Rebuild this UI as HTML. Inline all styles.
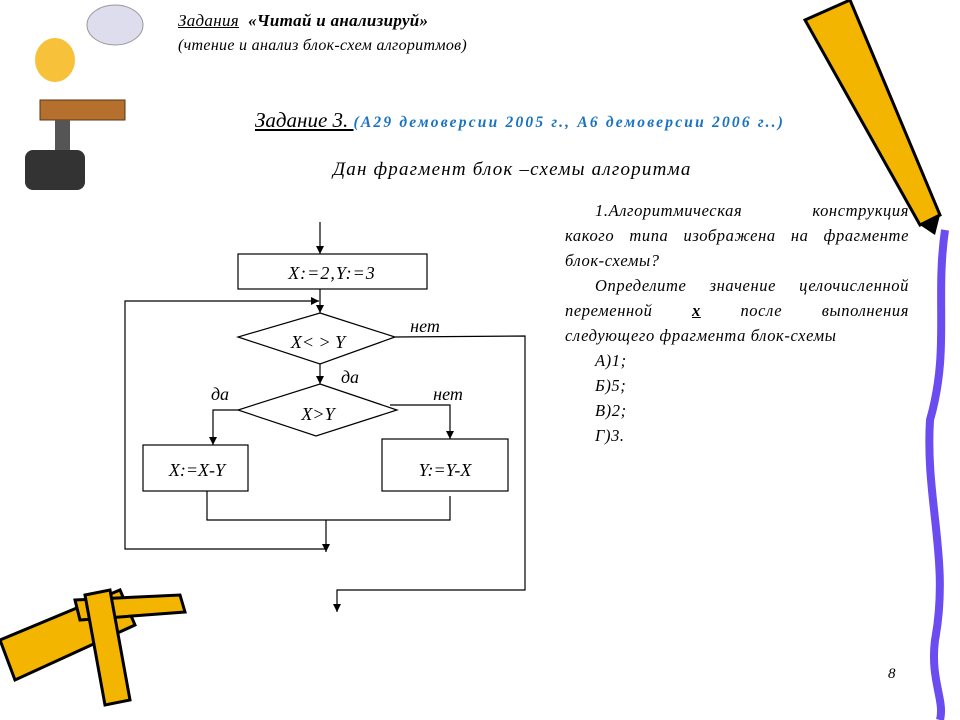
<!DOCTYPE html>
<html><head><meta charset="utf-8"><style>
html,body{margin:0;padding:0;background:#fff;}
body{width:960px;height:720px;position:relative;overflow:hidden;font-family:"Liberation Serif","DejaVu Serif",serif;font-style:italic;}
.t{position:absolute;white-space:nowrap;color:#000;}
#q{position:absolute;left:565px;top:198px;width:344px;font-size:16.5px;line-height:25px;letter-spacing:0.6px;}
#q div{white-space:nowrap;}
#q .j{text-align:justify;text-align-last:justify;white-space:normal;}
#q .i{padding-left:30px;}
</style></head><body>
<svg width="960" height="720" style="position:absolute;left:0;top:0">
<defs><marker id="a" markerWidth="8" markerHeight="8" refX="8" refY="4" orient="auto" markerUnits="userSpaceOnUse"><path d="M0,0 L8,4 L0,8z" fill="#000"/></marker></defs>
<g>
<polygon points="805,20 850,0 940,215 920,225" fill="#f3b500" stroke="#000" stroke-width="3"/>
<polygon points="920,225 940,215 935,235" fill="#000"/>
<path d="M945,230 C935,300 950,350 930,420 C925,500 950,560 935,640 C930,680 945,700 940,720" stroke="#6a4cf0" stroke-width="8" fill="none"/>
<polygon points="0,640 120,590 135,625 15,680" fill="#f3b500" stroke="#000" stroke-width="3"/>
<polygon points="75,600 180,595 185,612 80,620" fill="#f3b500" stroke="#000" stroke-width="3"/>
<polygon points="85,595 110,590 130,700 105,705" fill="#f3b500" stroke="#000" stroke-width="3"/>
<ellipse cx="115" cy="25" rx="28" ry="20" fill="#dde" stroke="#999"/>
<ellipse cx="55" cy="60" rx="20" ry="22" fill="#f7c23a"/>
<rect x="40" y="100" width="85" height="20" fill="#b6702e" stroke="#5a3512"/>
<rect x="55" y="120" width="15" height="55" fill="#555"/>
<rect x="25" y="150" width="60" height="40" fill="#333" rx="8"/>
</g>
<g stroke="#000" stroke-width="1.2" fill="none">
<line x1="320" y1="222" x2="320" y2="254" marker-end="url(#a)"/>
<rect x="238" y="254" width="189" height="35" fill="#fff"/>
<line x1="320" y1="289" x2="320" y2="313" marker-end="url(#a)"/>
<polyline points="326,549 125,549 125,301 319,301" marker-end="url(#a)"/>
<polygon points="320,313 395,337 320,364 238,337" fill="#fff"/>
<polyline points="395,337 525,336 525,590 337,590 337,612" marker-end="url(#a)"/>
<line x1="320" y1="364" x2="320" y2="384" marker-end="url(#a)"/>
<polygon points="320,384 397,410 316,436 238,410" fill="#fff"/>
<polyline points="238,410 213,410 213,445" marker-end="url(#a)"/>
<polyline points="390,405 450,405 450,439" marker-end="url(#a)"/>
<rect x="143" y="445" width="105" height="46" fill="#fff"/>
<rect x="382" y="439" width="126" height="52" fill="#fff"/>
<polyline points="207,491 207,520 450,520 450,496"/>
<line x1="326" y1="520" x2="326" y2="552" marker-end="url(#a)"/>
</g>
<g font-family="Liberation Serif,serif" font-style="italic" font-size="18" text-anchor="middle">
<text x="332" y="279" letter-spacing="1">X:=2,Y:=3</text>
<text x="318" y="348">X&lt; &gt; Y</text>
<text x="318" y="420">X&gt;Y</text>
<text x="197" y="476">X:=X-Y</text>
<text x="445" y="476">Y:=Y-X</text>
<text x="425" y="332">нет</text>
<text x="350" y="383">да</text>
<text x="220" y="400">да</text>
<text x="448" y="400">нет</text>
</g>
</svg>
<div class="t" style="left:178px;top:11px;font-size:17px;letter-spacing:0.3px;"><u>Задания</u> &nbsp;<b>«Читай и анализируй»</b></div>
<div class="t" style="left:178px;top:37px;font-size:16px;letter-spacing:0.3px;">(чтение и анализ блок-схем алгоритмов)</div>
<div class="t" style="left:255px;top:108px;font-size:21px;"><u>Задание 3. </u><span style="color:#1a73c0;font-size:15.5px;font-weight:bold;letter-spacing:2.2px;">(А29 демоверсии 2005 г., А6 демоверсии 2006 г..)</span></div>
<div class="t" style="left:333px;top:159px;font-size:19px;letter-spacing:1.2px;">Дан фрагмент блок –схемы алгоритма</div>
<div id="q">
<div class="j i">1.Алгоритмическая конструкция</div>
<div class="j">какого типа изображена на фрагменте</div>
<div>блок-схемы?</div>
<div class="j i">Определите значение целочисленной</div>
<div class="j">переменной <b><u>х</u></b> после выполнения</div>
<div>следующего фрагмента блок-схемы</div>
<div class="i">А)1;</div><div class="i">Б)5;</div><div class="i">В)2;</div><div class="i">Г)3.</div>
</div>
<div class="t" style="left:888px;top:666px;font-size:15px;">8</div>
</body></html>
